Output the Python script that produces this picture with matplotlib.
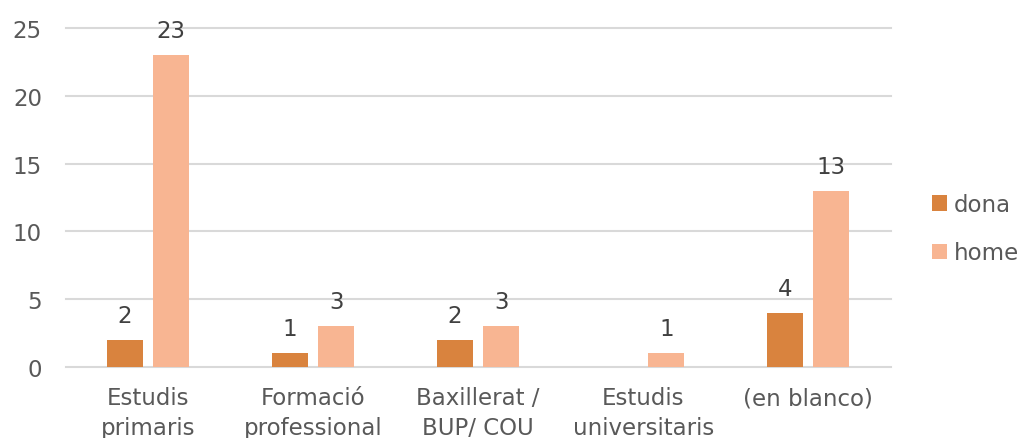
import matplotlib
matplotlib.use("Agg")
import matplotlib.pyplot as plt
import numpy as np

categories = ["Estudis\nprimaris", "Formació\nprofessional", "Baxillerat /\nBUP/ COU",
              "Estudis\nuniversitaris", "(en blanco)"]
dona = [2, 1, 2, None, 4]
home = [23, 3, 3, 1, 13]
series_names = ["dona", "home"]
colors = ["#D9833E", "#F8B592"]
yticks = [0, 5, 10, 15, 20, 25]

plt.rcParams['font.family'] = ['DejaVu Sans']
FS = 16.5

fig = plt.figure(figsize=(10.25, 4.39), dpi=100)
ax = fig.add_axes([0.064, 0.162, 0.805, 0.772])

x = np.arange(len(categories))
w = 0.22
offs = [-0.14, 0.14]
for vals, off, c, name in zip([dona, home], offs, colors, series_names):
    xs = [xi + off for xi, v in zip(x, vals) if v is not None]
    vs = [v for v in vals if v is not None]
    ax.bar(xs, vs, width=w, color=c, label=name, zorder=3)
    for xi, v in zip(xs, vs):
        ax.text(xi, v + 0.95, str(v), ha='center', va='bottom', fontsize=FS, color='#404040')

ax.set_xlim(-0.5, len(categories) - 0.5)
ax.set_ylim(0, 25)
ax.set_yticks(yticks)
ax.set_xticks(x)
ax.set_xticklabels(categories, fontsize=FS, color='#595959', linespacing=1.35)
ax.tick_params(axis='y', labelsize=FS, colors='#595959', length=0, pad=17)
ax.tick_params(axis='x', length=0, pad=14)
ax.grid(axis='y', color='#D9D9D9', linewidth=1.5, zorder=0)
for gl in ax.get_ygridlines():
    gl.set_clip_on(False)
for s in ax.spines.values():
    s.set_visible(False)

leg = fig.legend(loc='center left', bbox_to_anchor=(0.909, 0.477), frameon=False,
                 fontsize=FS, labelcolor='#595959', handlelength=0.65, handleheight=0.65,
                 handletextpad=0.3, labelspacing=1.1, borderpad=0, borderaxespad=0)

fig.savefig("out.png", dpi=100)
